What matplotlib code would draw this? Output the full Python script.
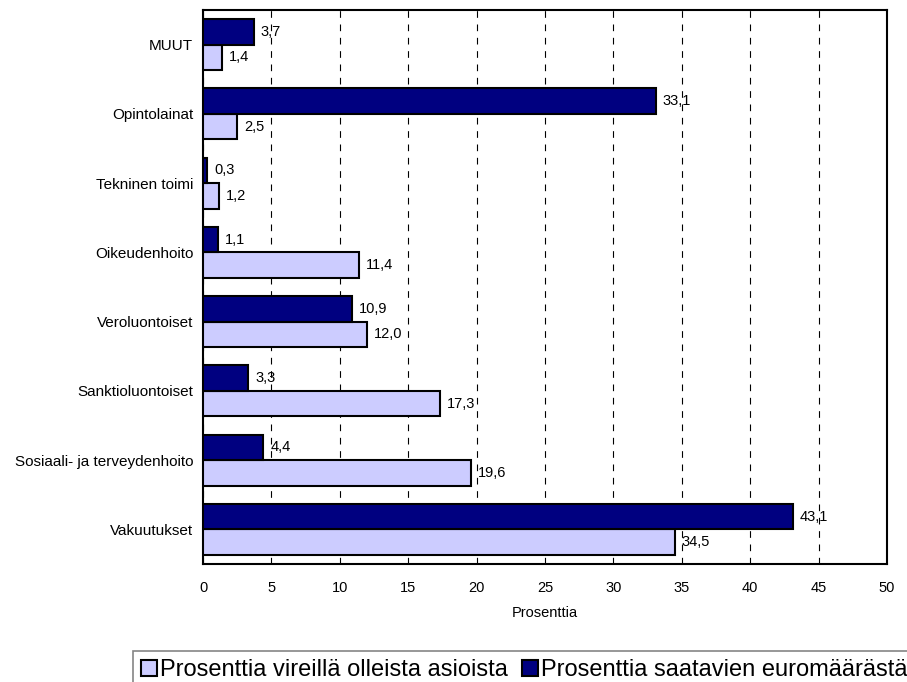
import numpy as np
import matplotlib.pyplot as plt
from matplotlib.patches import Patch

plt.rcParams['font.family'] = ['Liberation Sans', 'DejaVu Sans']

# Categories from bottom to top
categories = ['Vakuutukset', 'Sosiaali- ja terveydenhoito', 'Sanktioluontoiset',
              'Veroluontoiset', 'Oikeudenhoito', 'Tekninen toimi', 'Opintolainat', 'MUUT']
vireilla = [34.5, 19.6, 17.3, 12.0, 11.4, 1.2, 2.5, 1.4]
euromaara = [43.1, 4.4, 3.3, 10.9, 1.1, 0.3, 33.1, 3.7]

light = '#CCCCFF'
dark = '#000080'

fig = plt.figure(figsize=(9.07, 6.82), dpi=100)
ax = fig.add_axes([203 / 907, 1 - 564 / 682, (887 - 203) / 907, (564 - 10) / 682])

y = np.arange(len(categories))
h = 0.37
ax.barh(y - h / 2, vireilla, height=h, color=light, edgecolor='black', linewidth=1.5, zorder=3)
ax.barh(y + h / 2, euromaara, height=h, color=dark, edgecolor='black', linewidth=1.5, zorder=3)

def fmt(v):
    return f'{v:.1f}'.replace('.', ',')

for yi, v in zip(y, vireilla):
    ax.annotate(fmt(v), (v, yi - h / 2), xytext=(5, 0), textcoords='offset points',
                va='center', ha='left', fontsize=10.5, zorder=4)
for yi, v in zip(y, euromaara):
    ax.annotate(fmt(v), (v, yi + h / 2), xytext=(5, 0), textcoords='offset points',
                va='center', ha='left', fontsize=10.5, zorder=4)

ax.set_xlim(0, 50)
ax.set_ylim(-0.5, len(categories) - 0.5)
ax.set_xticks(np.arange(0, 51, 5))
ax.set_yticks(y)
ax.set_yticklabels(categories)
ax.tick_params(axis='x', length=0, labelsize=10.5, pad=12)
ax.tick_params(axis='y', length=0, labelsize=11, pad=7)
ax.xaxis.grid(True, color='black', linestyle=(0, (6, 6)), linewidth=0.8, zorder=1)
for s in ax.spines.values():
    s.set_linewidth(1.5)
ax.set_xlabel('Prosenttia', fontsize=10.5, labelpad=8)

handles = [Patch(facecolor=light, edgecolor='black', linewidth=1.5),
           Patch(facecolor=dark, edgecolor='black', linewidth=1.5)]
leg = fig.legend(handles, ['Prosenttia vireillä olleista asioista',
                           'Prosenttia saatavien euromäärästä'],
                 loc='upper left', bbox_to_anchor=(133 / 907, 1 - 651 / 682),
                 ncol=2, fontsize=17, frameon=True, fancybox=False,
                 handlelength=0.65, handleheight=0.65, handletextpad=0.15,
                 columnspacing=0.6, borderpad=0.35, borderaxespad=0)
leg.get_frame().set_edgecolor('#666666')
leg.get_frame().set_linewidth(1.2)

fig.savefig('out.png', dpi=100)
